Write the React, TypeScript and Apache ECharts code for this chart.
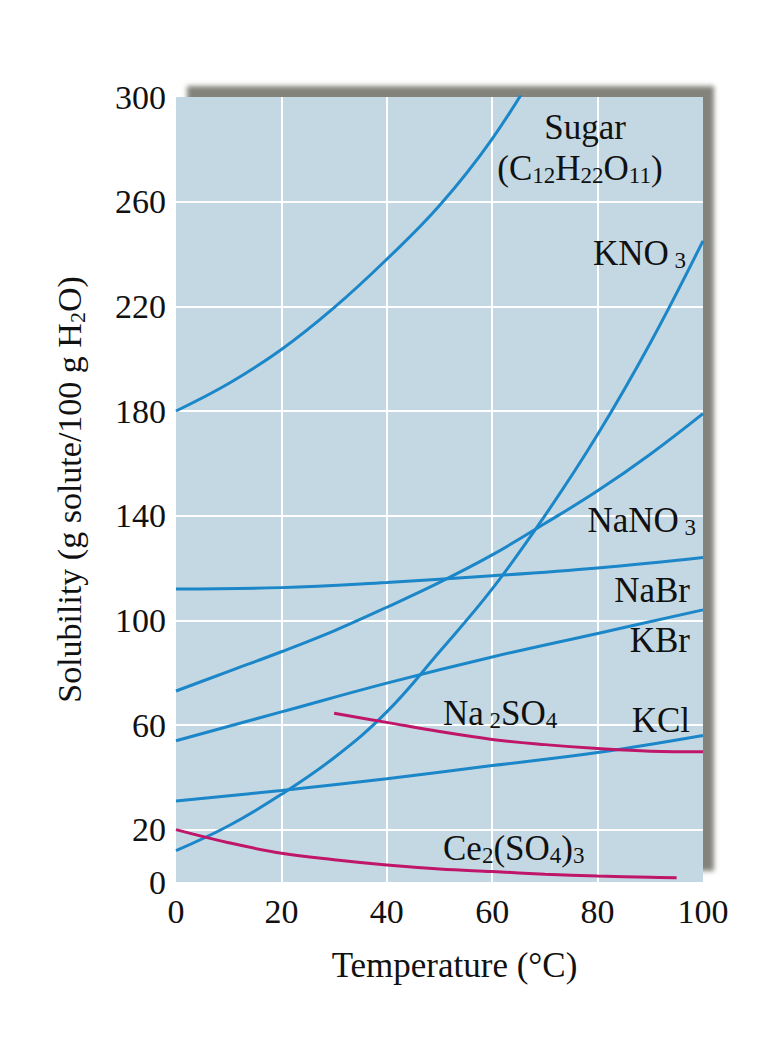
import React, { useEffect, useRef } from "react";
import * as echarts from "echarts";

// ---- data (temperature °C, solubility g / 100 g H2O) ----
const sugarT = [0, 10, 20, 30, 40, 50, 60, 70];
const sugarS = [180, 190.5, 203.5, 219.5, 238, 258.5, 284, 316];

const kno3T = [0, 10, 20, 30, 40, 50, 60, 70, 80, 90, 100];
const kno3S = [12, 21.5, 33.5, 47.5, 65, 88, 112, 140, 171, 206, 245];

const nano3T = [0, 10, 20, 30, 40, 50, 60, 70, 80, 90, 100];
const nano3S = [73, 80.5, 88, 96, 105, 114.5, 125, 137, 149.5, 163.5, 179];

const nabrT = [0, 20, 40, 60, 80, 100];
const nabrS = [112, 112.5, 114.5, 117, 120, 124];

const kbrT = [0, 20, 40, 60, 80, 100];
const kbrS = [54, 65, 76, 86, 95, 104];

const kclT = [0, 20, 40, 60, 80, 100];
const kclS = [31, 35, 39.5, 44.5, 49.5, 56];

const na2so4T = [30, 40, 50, 60, 70, 80, 90, 100];
const na2so4S = [64.5, 61, 57.5, 54.5, 52.5, 51, 50, 49.8];

const ce2so43T = [0, 10, 20, 30, 40, 50, 60, 70, 80, 90, 95];
const ce2so43S = [20, 15, 11, 8.5, 6.5, 5, 4, 3, 2.3, 1.8, 1.6];

const xTicks = [0, 20, 40, 60, 80, 100];
const yTickLabels = [0, 20, 60, 100, 140, 180, 220, 260, 300];
const yGridValues = [20, 60, 100, 140, 180, 220, 260];

const BLUE = "#1b86c8";
const MAGENTA = "#c01669";
const FONT = "'Liberation Serif', 'DejaVu Serif', serif";

const pairs = (t: number[], s: number[]) => t.map((v, i) => [v, s[i]]);

const labelRich = {
  n: { fontSize: 35, lineHeight: 38, fontFamily: FONT, color: "#111" },
  s: { fontSize: 23, lineHeight: 13, verticalAlign: "bottom", fontFamily: FONT, color: "#111" },
};

const nameRich = {
  n: { fontSize: 34, lineHeight: 38, fontFamily: FONT, color: "#111" },
  s: { fontSize: 22, lineHeight: 13, verticalAlign: "bottom", fontFamily: FONT, color: "#111" },
};

function label(text: string, x: number, y: number, align: string) {
  return {
    type: "text",
    x,
    y,
    z: 100,
    style: {
      text,
      rich: labelRich,
      fontFamily: FONT,
      fontSize: 35,
      fill: "#111",
      textAlign: align,
      textVerticalAlign: "middle",
    },
  };
}

export default function App() {
  const ref = useRef<HTMLDivElement>(null);
  useEffect(() => {
    if (!ref.current) return;
    const chart = echarts.init(ref.current, undefined, { renderer: "svg" });
    const line = (name: string, t: number[], s: number[], color: string) => ({
      name,
      type: "line",
      data: pairs(t, s),
      smooth: 0.4,
      showSymbol: false,
      clip: true,
      z: 5,
      lineStyle: { color, width: 3 },
    });
    chart.setOption({
      animation: false,
      backgroundColor: "#ffffff",
      grid: {
        left: 176,
        right: 77,
        top: 97,
        bottom: 166,
        show: true,
        backgroundColor: "#c4d8e3",
        borderWidth: 0,
        shadowColor: "rgba(125,125,115,0.95)",
        shadowBlur: 5,
        shadowOffsetX: 11,
        shadowOffsetY: -11,
      },
      xAxis: {
        type: "value",
        min: 0,
        max: 100,
        interval: 20,
        name: "Temperature (°C)",
        nameLocation: "middle",
        nameGap: 66,
        nameTextStyle: { fontFamily: FONT, fontSize: 35, color: "#111", padding: [0, 0, 0, 30] },
        axisLine: { show: false },
        axisTick: { show: false },
        axisLabel: {
          fontFamily: FONT,
          fontSize: 34,
          color: "#111",
          margin: 12,
          formatter: (v: number) => (xTicks.includes(v) ? String(v) : ""),
        },
        splitLine: {
          show: true,
          showMinLine: false,
          showMaxLine: false,
          lineStyle: { color: "#ffffff", width: 2 },
        },
      },
      yAxis: {
        type: "value",
        min: 0,
        max: 300,
        interval: 20,
        name: "{n|Solubility (g solute/100 g H}{s|2}{n|O)}",
        nameLocation: "middle",
        nameGap: 88,
        nameTextStyle: { fontFamily: FONT, fontSize: 34, color: "#111", rich: nameRich },
        axisLine: { show: false },
        axisTick: { show: false },
        splitLine: { show: false },
        axisLabel: {
          fontFamily: FONT,
          fontSize: 34,
          color: "#111",
          margin: 10,
          formatter: (v: number) => (yTickLabels.includes(v) ? String(v) : ""),
        },
      },
      series: [
        {
          name: "grid",
          type: "line",
          data: [],
          z: 1,
          markLine: {
            silent: true,
            symbol: "none",
            label: { show: false },
            lineStyle: { color: "#ffffff", width: 2, type: "solid" },
            data: yGridValues.map((v) => ({ yAxis: v })),
          },
        },
        line("Sugar", sugarT, sugarS, BLUE),
        line("KNO3", kno3T, kno3S, BLUE),
        line("NaNO3", nano3T, nano3S, BLUE),
        line("NaBr", nabrT, nabrS, BLUE),
        line("KBr", kbrT, kbrS, BLUE),
        line("KCl", kclT, kclS, BLUE),
        line("Na2SO4", na2so4T, na2so4S, MAGENTA),
        line("Ce2(SO4)3", ce2so43T, ce2so43S, MAGENTA),
      ],
      graphic: [
        label("{n|Sugar}", 585, 127, "center"),
        label("{n|(C}{s|12}{n|H}{s|22}{n|O}{s|11}{n|)}", 580, 168, "center"),
        label("{n|KNO}{s| 3}", 686, 253, "right"),
        label("{n|NaNO}{s| 3}", 696, 520, "right"),
        label("{n|NaBr}", 690, 590, "right"),
        label("{n|KBr}", 690, 640, "right"),
        label("{n|Na}{s| 2}{n|SO}{s|4}", 443, 713, "left"),
        label("{n|KCl}", 690, 720, "right"),
        label("{n|Ce}{s|2}{n|(SO}{s|4}{n|)}{s|3}", 443, 848, "left"),
      ],
    });
    return () => chart.dispose();
  }, []);
  return (
    <div
      ref={ref}
      style={{ position: "fixed", left: 0, top: 0, width: 780, height: 1048 }}
    />
  );
}
